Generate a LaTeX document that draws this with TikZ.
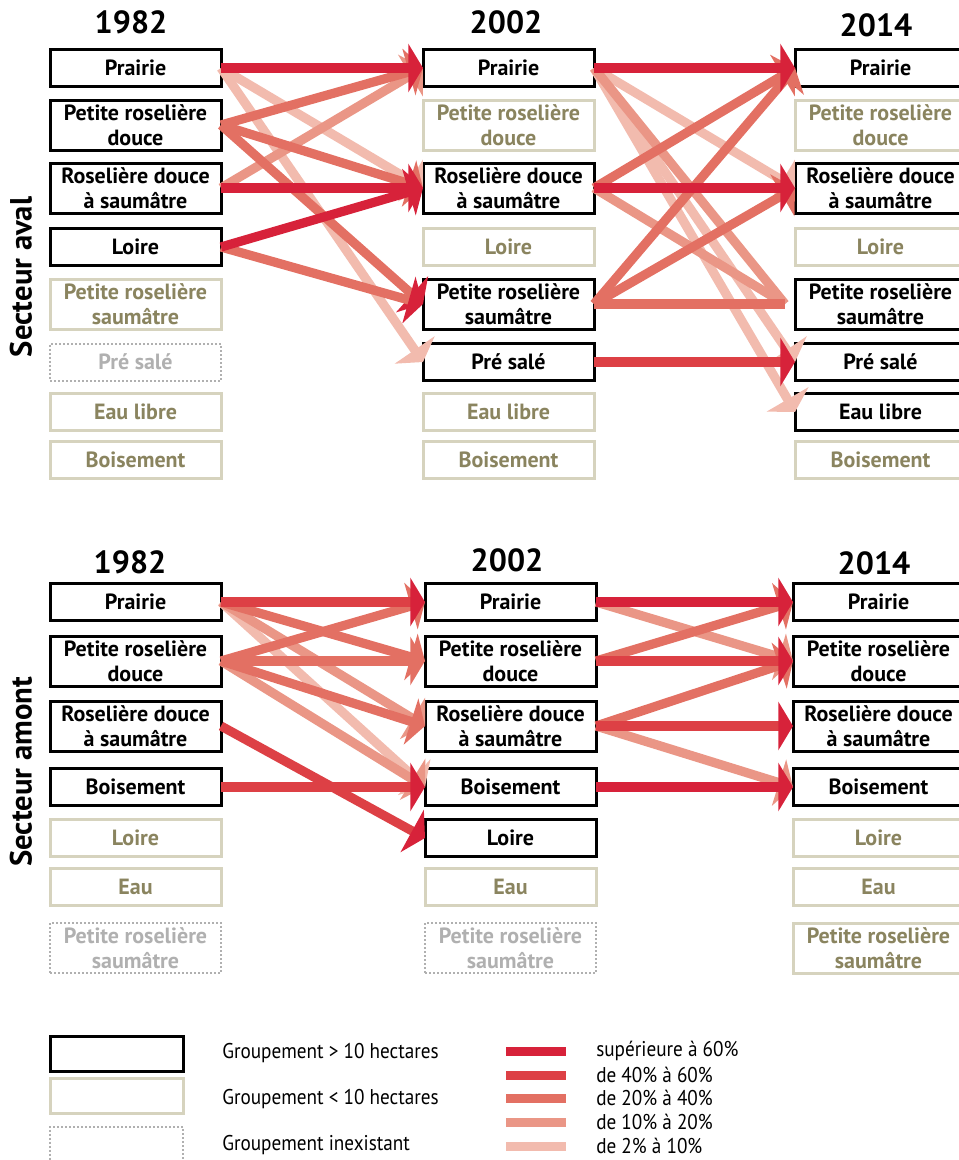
\documentclass[tikz,border=0pt]{standalone}
\usepackage{fontspec}
\setmainfont{PT Sans}
\newfontfamily\condfont[FakeStretch=0.9]{PT Sans}
\usetikzlibrary{arrows.meta}

\definecolor{rA}{HTML}{D7223A}
\definecolor{rB}{HTML}{DD4045}
\definecolor{rC}{HTML}{E37063}
\definecolor{rD}{HTML}{EA9686}
\definecolor{rE}{HTML}{F2BBAE}
\definecolor{olive}{HTML}{8A845F}
\definecolor{beige}{HTML}{D6D3BE}
\definecolor{grisp}{HTML}{B0B0B0}

\tikzset{
  grp/.style={minimum width=128.25pt, minimum height=27.75pt, inner sep=0pt, outer sep=0pt,
    align=center, font=\fontsize{16.5}{18.75}\selectfont\bfseries, line width=2.25pt},
  fort/.style={grp, draw=black},
  faible/.style={grp, draw=beige, text=olive},
  absent/.style={grp, draw=grisp, text=grisp, line width=1.5pt, dash pattern=on 1.5pt off 1.5pt},
  haut/.style={minimum height=37.5pt},
  annee/.style={font=\fontsize{24}{28}\selectfont\bfseries},
  secteur/.style={rotate=90, font=\fontsize{23}{26}\selectfont\bfseries},
  pointe/.style={-{Triangle[length=11pt, width=36pt, color=#1]}},
  flux/.style={line width=6.9pt, -{Triangle[length=11pt, width=36pt]}},
  f60/.style={flux, draw=rA},
  f40/.style={flux, draw=rB, pointe=rA},
  f20/.style={flux, draw=rC},
  f10/.style={flux, draw=rD},
  f2/.style={flux, draw=rE},
  leg/.style={minimum width=99.75pt, minimum height=26.25pt, inner sep=0pt},
  legtxt/.style={anchor=west, inner sep=0pt, font=\condfont\fontsize{16}{18}\selectfont},
}

\begin{document}
\begin{tikzpicture}[x=0.75pt, y=-0.75pt]
  \useasboundingbox (0,0) rectangle (959,1160);

  \node[annee] (aT1) at (131,22) {1982};
  \node[annee] (aT2) at (506,22) {2002};
  \node[annee] (aT3) at (876,25) {2014};
  \node[secteur] (aS) at (21,277) {Secteur aval};

  \node[fort] (a1pra) at (135.5,68) {Prairie};
  \node[fort, haut] (a1prd) at (135.5,125) {Petite roselière\\douce};
  \node[fort, haut] (a1rds) at (135.5,188) {Roselière douce\\à saumâtre};
  \node[fort] (a1loi) at (135.5,247) {Loire};
  \node[faible, haut] (a1prs) at (135.5,304) {Petite roselière\\saumâtre};
  \node[absent] (a1pre) at (135.5,362) {Pré salé};
  \node[faible] (a1eau) at (135.5,412) {Eau libre};
  \node[faible] (a1boi) at (135.5,460) {Boisement};

  \node[fort] (a2pra) at (508.5,68) {Prairie};
  \node[faible, haut] (a2prd) at (508.5,125) {Petite roselière\\douce};
  \node[fort, haut] (a2rds) at (508.5,188) {Roselière douce\\à saumâtre};
  \node[faible] (a2loi) at (508.5,247) {Loire};
  \node[fort, haut] (a2prs) at (508.5,304) {Petite roselière\\saumâtre};
  \node[fort] (a2pre) at (508.5,362) {Pré salé};
  \node[faible] (a2eau) at (508.5,412) {Eau libre};
  \node[faible] (a2boi) at (508.5,460) {Boisement};

  \node[fort] (a3pra) at (880.5,68) {Prairie};
  \node[faible, haut] (a3prd) at (880.5,125) {Petite roselière\\douce};
  \node[fort, haut] (a3rds) at (880.5,188) {Roselière douce\\à saumâtre};
  \node[faible] (a3loi) at (880.5,247) {Loire};
  \node[fort, haut] (a3prs) at (880.5,304) {Petite roselière\\saumâtre};
  \node[fort] (a3pre) at (880.5,362) {Pré salé};
  \node[fort] (a3eau) at (880.5,412) {Eau libre};
  \node[faible] (a3boi) at (880.5,460) {Boisement};
  \coordinate (a3prsin) at ([xshift=-7.5pt]a3prs.west);

  \draw[f2] (a1pra.east) -- (a2rds.west);
  \draw[f2] (a1pra.east) -- (a2pre.west);
  \draw[f10] (a1rds.east) -- (a2pra.west);
  \draw[f20] (a1prd.east) -- (a2pra.west);
  \draw[f20] (a1prd.east) -- (a2rds.west);
  \draw[f20, pointe=rA] (a1prd.east) -- (a2prs.west);
  \draw[f20, pointe=rA] (a1loi.east) -- (a2prs.west);
  \draw[f60] (a1pra.east) -- (a2pra.west);
  \draw[f60] (a1rds.east) -- (a2rds.west);
  \draw[f60] (a1loi.east) -- (a2rds.west);

  \draw[f2] (a2pra.east) -- (a3rds.west);
  \draw[f2] (a2pra.east) -- (a3pre.west);
  \draw[f2] (a2pra.east) -- (a3eau.west);
  \draw[f10, -] (a2pra.east) -- (a3prsin);
  \draw[f10, -] (a2rds.east) -- (a3prsin);
  \draw[f20] (a2rds.east) -- (a3pra.west);
  \draw[f20] (a2prs.east) -- (a3pra.west);
  \draw[f20] (a2prs.east) -- (a3rds.west);
  \draw[f20, -] (a2prs.east) -- (a3prsin);
  \draw[f40] (a2pre.east) -- (a3pre.west);
  \draw[f60] (a2pra.east) -- (a3pra.west);
  \draw[f60] (a2rds.east) -- (a3rds.west);

  \node[annee] (mT1) at (130,562) {1982};
  \node[annee] (mT2) at (507,560) {2002};
  \node[annee] (mT3) at (874,563) {2014};
  \node[secteur] (mS) at (21,772) {Secteur amont};

  \node[fort] (m1pra) at (135.5,602) {Prairie};
  \node[fort, haut] (m1prd) at (135.5,661) {Petite roselière\\douce};
  \node[fort, haut] (m1rds) at (135.5,726) {Roselière douce\\à saumâtre};
  \node[fort] (m1boi) at (135.5,787) {Boisement};
  \node[faible] (m1loi) at (135.5,838) {Loire};
  \node[faible] (m1eau) at (135.5,887) {Eau};
  \node[absent, haut] (m1prs) at (135.5,948) {Petite roselière\\saumâtre};

  \node[fort] (m2pra) at (510.5,602) {Prairie};
  \node[fort, haut] (m2prd) at (510.5,661) {Petite roselière\\douce};
  \node[fort, haut] (m2rds) at (510.5,726) {Roselière douce\\à saumâtre};
  \node[fort] (m2boi) at (510.5,787) {Boisement};
  \node[fort] (m2loi) at (510.5,838) {Loire};
  \node[faible] (m2eau) at (510.5,887) {Eau};
  \node[absent, haut] (m2prs) at (510.5,948) {Petite roselière\\saumâtre};

  \node[fort] (m3pra) at (878.5,602) {Prairie};
  \node[fort, haut] (m3prd) at (878.5,661) {Petite roselière\\douce};
  \node[fort, haut] (m3rds) at (878.5,726) {Roselière douce\\à saumâtre};
  \node[fort] (m3boi) at (878.5,787) {Boisement};
  \node[faible] (m3loi) at (878.5,838) {Loire};
  \node[faible] (m3eau) at (878.5,887) {Eau};
  \node[faible, haut] (m3prs) at (878.5,948) {Petite roselière\\saumâtre};

  \draw[f2] (m1pra.east) -- (m2boi.west);
  \draw[f10] (m1pra.east) -- (m2rds.west);
  \draw[f10] (m1prd.east) -- (m2boi.west);
  \draw[f20] (m1pra.east) -- (m2prd.west);
  \draw[f20] (m1prd.east) -- (m2pra.west);
  \draw[f20] (m1prd.east) -- (m2prd.west);
  \draw[f20] (m1prd.east) -- (m2rds.west);
  \draw[f40] (m1pra.east) -- (m2pra.west);
  \draw[f40] (m1rds.east) -- (m2loi.west);
  \draw[f40] (m1boi.east) -- (m2boi.west);

  \draw[f10] (m2pra.east) -- (m3prd.west);
  \draw[f10] (m2rds.east) -- (m3boi.west);
  \draw[f20] (m2prd.east) -- (m3pra.west);
  \draw[f20] (m2rds.east) -- (m3prd.west);
  \draw[f40] (m2prd.east) -- (m3prd.west);
  \draw[f40] (m2rds.east) -- (m3rds.west);
  \draw[f60] (m2pra.east) -- (m3pra.west);
  \draw[f60] (m2boi.east) -- (m3boi.west);

  \node[leg, draw=black, line width=2.25pt] (l1) at (116.5,1053.5) {};
  \node[leg, draw=beige, line width=2.25pt] (l2) at (116.5,1096) {};
  \node[leg, draw=grisp, line width=1.5pt, dash pattern=on 1.5pt off 1.5pt] (l3) at (116.5,1144) {};
  \node[legtxt] (t1) at (222,1053) {Groupement > 10 hectares};
  \node[legtxt] (t2) at (222,1099) {Groupement < 10 hectares};
  \node[legtxt] (t3) at (222,1145) {Groupement inexistant};

  \fill[rA] (506,1046.5) rectangle (566,1055.5);
  \fill[rB] (506,1070.5) rectangle (566,1079.5);
  \fill[rC] (506,1093.5) rectangle (566,1102.5);
  \fill[rD] (506,1117.5) rectangle (566,1126.5);
  \fill[rE] (506,1141.5) rectangle (566,1150.5);
  \node[legtxt] (p1) at (596,1051) {supérieure à 60\%};
  \node[legtxt] (p2) at (596,1075) {de 40\% à 60\%};
  \node[legtxt] (p3) at (596,1098) {de 20\% à 40\%};
  \node[legtxt] (p4) at (596,1122) {de 10\% à 20\%};
  \node[legtxt] (p5) at (596,1146) {de 2\% à 10\%};
\end{tikzpicture}
\end{document}
